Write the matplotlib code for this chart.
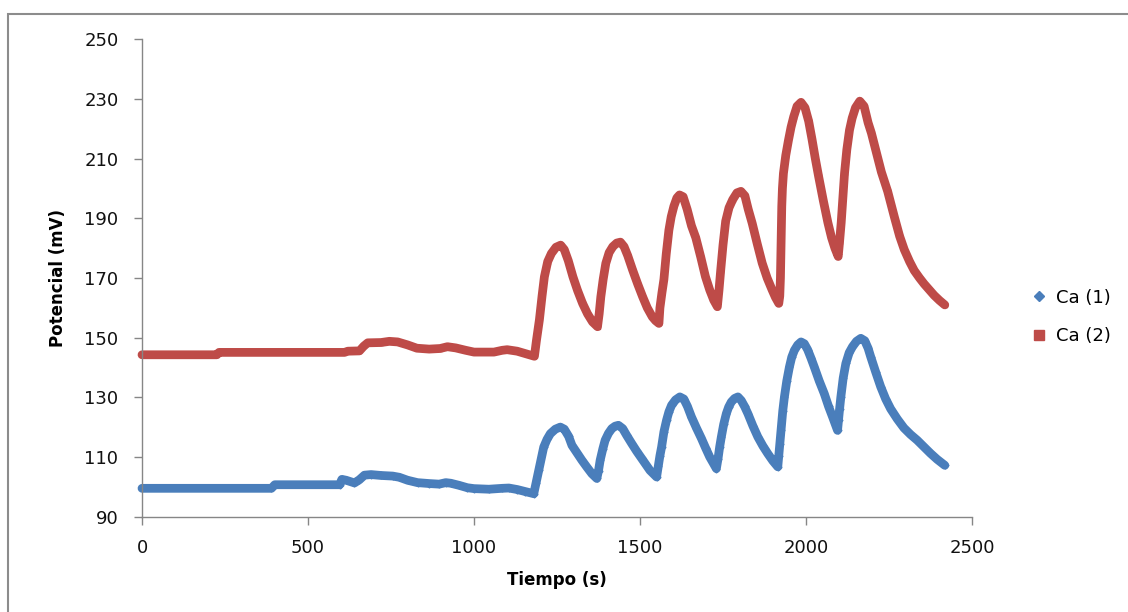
import matplotlib
matplotlib.use("Agg")
import matplotlib.pyplot as plt
from matplotlib.lines import Line2D
from matplotlib.patches import Rectangle

# Ca (1): time (s) and potential (mV)
t_ca1 = [0, 390, 400, 595, 602, 615, 640, 655, 670, 690, 720, 755, 775, 800,
         830, 865, 895, 915, 930, 955, 980, 1000, 1045, 1085, 1105, 1130, 1155,
         1180, 1187, 1195, 1210, 1220, 1230, 1245, 1260, 1272, 1285, 1295, 1310,
         1325, 1340, 1355, 1370, 1375, 1380, 1388, 1395, 1405, 1415, 1425, 1435,
         1448, 1460, 1475, 1490, 1505, 1518, 1530, 1550, 1555, 1560, 1565, 1572,
         1580, 1587, 1595, 1607, 1620, 1632, 1643, 1655, 1670, 1685, 1698, 1710,
         1730, 1735, 1740, 1745, 1752, 1760, 1767, 1775, 1785, 1795, 1805, 1815,
         1825, 1840, 1855, 1870, 1885, 1900, 1915, 1918, 1921, 1925, 1930, 1935,
         1942, 1950, 1957, 1965, 1975, 1985, 1995, 2005, 2015, 2025, 2040, 2055,
         2068, 2080, 2095, 2098, 2101, 2105, 2112, 2120, 2130, 2140, 2152, 2165,
         2177, 2187, 2195, 2210, 2225, 2240, 2255, 2275, 2295, 2315, 2335, 2355,
         2375, 2395, 2418]
v_ca1 = [99.6, 99.6, 100.8, 100.8, 102.6, 102.3, 101.4, 102.5, 104.0, 104.2,
         103.9, 103.7, 103.3, 102.3, 101.5, 101.2, 101.0, 101.5, 101.3, 100.6,
         99.8, 99.5, 99.3, 99.6, 99.7, 99.2, 98.5,
         97.8, 101.5, 105.6, 113.4, 116.0, 117.9, 119.4, 120.1, 119.4, 117.0,
         114.0, 111.5, 109.0, 106.7, 104.5, 102.9, 105.5, 109.0, 112.8, 115.7,
         118.0, 119.6, 120.4, 120.7, 119.6, 117.3, 114.6, 112.0, 109.6, 107.5,
         105.6, 103.4, 107.0, 110.5, 113.4, 118.5, 122.4, 125.2, 127.4, 129.2,
         130.2, 129.5, 127.0, 123.5, 119.8, 116.3, 113.0, 110.1, 106.2, 109.5,
         113.5, 116.8, 121.0, 124.6, 126.8, 128.5, 129.7, 130.2, 129.0, 127.0,
         124.6, 120.5, 116.8, 113.8, 111.2, 108.8, 106.8, 110.5, 114.5, 119.0,
         125.5, 130.2, 135.5, 140.2, 143.5, 145.8, 147.6, 148.6, 148.0, 146.0,
         143.2, 140.2, 135.5, 131.3, 127.0, 123.5, 119.0, 122.5, 126.0, 130.2,
         136.5, 141.4, 145.0, 147.0, 148.8, 149.8, 149.0, 146.5, 143.6, 138.5,
         133.6, 129.5, 126.2, 122.8, 119.8, 117.6, 115.7, 113.5, 111.3, 109.3,
         107.3]

# Ca (2)
t_ca2 = [0, 225, 232, 610, 620, 655, 668, 680, 720, 745, 770, 800, 828, 865,
         898, 920, 945, 975, 1000, 1060, 1085, 1100, 1130, 1160,
         1182, 1188, 1197, 1205, 1212, 1222, 1233, 1247, 1261, 1272, 1284, 1298,
         1312, 1327, 1342, 1357, 1372, 1377, 1382, 1389, 1397, 1407, 1418, 1430,
         1441, 1452, 1463, 1478, 1493, 1508, 1522, 1537, 1547, 1557, 1560, 1566,
         1572, 1579, 1587, 1594, 1602, 1611, 1619, 1630, 1642, 1655, 1668, 1683,
         1697, 1710, 1722, 1733, 1738, 1743, 1750, 1758, 1768, 1779, 1792, 1804,
         1816, 1826, 1838, 1853, 1868, 1883, 1898, 1908, 1918, 1921, 1923, 1924,
         1925, 1926, 1927, 1929, 1932, 1939, 1947, 1955, 1963, 1973, 1985, 1997,
         2008, 2018, 2028, 2038, 2052, 2066, 2077, 2087, 2097, 2101, 2106, 2111,
         2116, 2123, 2131, 2139, 2149, 2162, 2175, 2187, 2197, 2212, 2227, 2246,
         2266, 2282, 2296, 2312, 2326, 2342, 2356, 2372, 2386, 2402, 2418]
v_ca2 = [144.3, 144.3, 145.1, 145.1, 145.5, 145.6, 147.2, 148.3, 148.4, 148.8,
         148.6, 147.6, 146.5, 146.2, 146.4, 147.0, 146.6, 145.8, 145.2, 145.2,
         145.8, 146.0, 145.5, 144.5,
         143.8, 149.0, 156.0, 164.0, 170.4, 175.5, 178.2, 180.3, 181.0, 179.5,
         175.8, 170.4, 165.8, 161.5, 158.0, 155.3, 153.7, 158.0, 163.7, 169.5,
         174.9, 178.5, 180.5, 181.7, 182.0, 180.5, 177.5, 172.6, 168.0, 163.7,
         160.0, 157.0, 155.7, 154.8, 160.0, 165.0, 169.5, 178.0, 186.0, 190.5,
         194.0, 196.8, 197.8, 197.2, 193.0, 187.5, 183.5, 177.0, 170.5, 166.0,
         162.6, 160.4, 166.0, 172.5, 181.0, 189.0, 193.5, 196.2, 198.5, 199.0,
         197.5, 193.0, 188.3, 181.5, 175.0, 170.0, 166.0, 163.5, 161.5, 164.0,
         170.0, 176.0, 182.0, 188.0, 194.0, 200.0, 205.0, 211.0, 216.0, 220.5,
         224.0, 227.5, 228.8, 227.0, 222.5, 216.5, 210.0, 204.0, 196.0, 188.5,
         183.5, 180.0, 177.2, 182.0, 188.5, 197.0, 205.0, 213.0, 219.5, 223.5,
         227.0, 229.2, 227.5, 222.0, 218.5, 212.0, 205.5, 199.0, 190.5, 184.0,
         179.5, 175.5, 172.5, 170.0, 168.0, 166.0, 164.2, 162.5, 161.0]

series_names = ["Ca (1)", "Ca (2)"]
x_ticks = [0, 500, 1000, 1500, 2000, 2500]
y_ticks = [90, 110, 130, 150, 170, 190, 210, 230, 250]

blue = "#4a7ebb"
red = "#be4b48"

plt.rcParams['font.family'] = ['DejaVu Sans']

fig = plt.figure(figsize=(11.28, 6.12), dpi=100)
ax = fig.add_axes([142 / 1128, 1 - 517 / 612, 830 / 1128, 478 / 612])

ax.plot(t_ca1, v_ca1, color=blue, lw=6.3, marker="D", ms=3.5,
        solid_capstyle="round", solid_joinstyle="round", clip_on=False)
ax.plot(t_ca2, v_ca2, color=red, lw=6.3, marker="s", ms=3.5,
        solid_capstyle="round", solid_joinstyle="round", clip_on=False)

ax.set_xlim(0, 2500)
ax.set_ylim(90, 250)
ax.set_xticks(x_ticks)
ax.set_yticks(y_ticks)

for side in ["top", "right"]:
    ax.spines[side].set_visible(False)
for side in ["left", "bottom"]:
    ax.spines[side].set_color("#868686")
    ax.spines[side].set_linewidth(1.0)

ax.tick_params(axis="both", direction="out", length=6, width=1.0,
               color="#868686", labelsize=13, labelcolor="#111111")
ax.tick_params(axis="y", pad=11)
ax.tick_params(axis="x", pad=10)

ax.set_xlabel("Tiempo (s)", fontsize=12, fontweight="bold", labelpad=10)
ax.set_ylabel("Potencial (mV)", fontsize=12, fontweight="bold")
ax.yaxis.set_label_coords(-0.09, 0.5)

handles = [
    Line2D([], [], color=blue, marker="D", ms=5.5, ls="none"),
    Line2D([], [], color=red, marker="s", ms=6.5, ls="none"),
]
fig.legend(handles, series_names, loc="center left",
           bbox_to_anchor=(1030 / 1128, 1 - 317 / 612), frameon=False,
           fontsize=13, handlelength=1.0, handletextpad=0.45,
           labelspacing=1.15, borderpad=0, borderaxespad=0)

# outer chart border (cut off on the right and bottom)
fig.patches.append(Rectangle((8 / 1128, -0.05), 1.1, 1.05 - 14 / 612,
                             transform=fig.transFigure, fill=False,
                             edgecolor="#8c8c8c", lw=1.5))

fig.savefig("out.png", dpi=100)
